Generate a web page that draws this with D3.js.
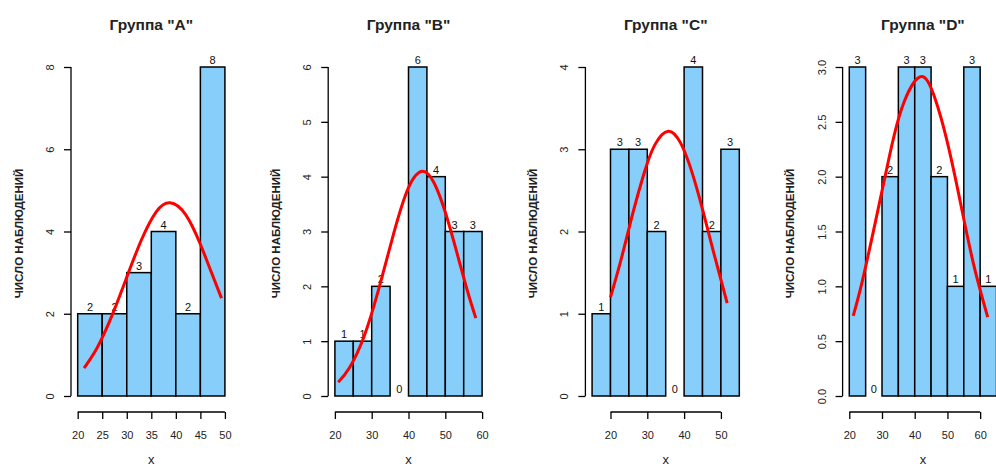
<!DOCTYPE html>
<html>
<head>
<meta charset="utf-8">
<script src="https://cdn.jsdelivr.net/npm/d3@7"></script>
<style>
  body { margin: 0; background: #fff; }
  svg { font-family: "Liberation Sans", Arial, sans-serif; }
  .bar { fill: #87cefa; stroke: #000; stroke-width: 1.5; }
  .curve { fill: none; stroke: #ff0000; stroke-width: 3; }
  .axis line, .axis path { stroke: #000; stroke-width: 1.3; }
  .tick-label { font-size: 11px; fill: #222; }
  .count { font-size: 11px; fill: #111; text-anchor: middle; }
  .title { font-size: 15.5px; font-weight: bold; text-anchor: middle; fill: #222; }
  .ylab { font-size: 11.5px; font-weight: bold; text-anchor: middle; fill: #222; }
  .xlab { font-size: 13px; text-anchor: middle; fill: #222; }
</style>
</head>
<body>
<script>
var width = 996, height = 466;

// data
var groups = ["A", "B", "C", "D"];

var breaksA = [20, 25, 30, 35, 40, 45, 50];
var countsA = [2, 2, 3, 4, 2, 8];
var breaksB = [20, 25, 30, 35, 40, 45, 50, 55, 60];
var countsB = [1, 1, 2, 0, 6, 4, 3, 3];
var breaksC = [15, 20, 25, 30, 35, 40, 45, 50, 55];
var countsC = [1, 3, 3, 2, 0, 4, 2, 3];
var breaksD = [20, 25, 30, 35, 40, 45, 50, 55, 60, 65];
var countsD = [3, 0, 2, 3, 3, 2, 1, 3, 1];

// fitted normal curves
var curveXA = [21.3, 24, 27, 30, 33, 36, 38.8, 42, 45, 47, 49.3];
var curveYA = [0.68, 1.18, 1.96, 2.89, 3.80, 4.48, 4.70, 4.41, 3.69, 3.08, 2.38];
var curveXB = [20.9, 24, 28, 32, 36, 40, 43.8, 47, 50, 53, 56, 58.3];
var curveYB = [0.25, 0.52, 1.10, 1.97, 2.97, 3.80, 4.10, 3.88, 3.35, 2.65, 1.92, 1.42];
var curveXC = [20, 23, 26, 29, 32, 35.7, 39, 42, 45, 48, 51.7];
var curveYC = [1.20, 1.68, 2.21, 2.69, 3.05, 3.22, 3.08, 2.74, 2.27, 1.75, 1.13];
var curveXD = [21.2, 24, 28, 32, 36, 41.6, 46, 50, 54, 58, 62.3];
var curveYD = [0.73, 1.05, 1.59, 2.15, 2.62, 2.91, 2.73, 2.31, 1.76, 1.20, 0.72];

var yTicksA = [0, 2, 4, 6, 8];
var yTicksB = [0, 1, 2, 3, 4, 5, 6];
var yTicksC = [0, 1, 2, 3, 4];
var yTicksD = [0, 0.5, 1, 1.5, 2, 2.5, 3];
var xTicksA = [20, 25, 30, 35, 40, 45, 50];
var xTicksB = [20, 30, 40, 50, 60];
var xTicksC = [20, 30, 40, 50];
var xTicksD = [20, 30, 40, 50, 60];

var panels = [
  {breaks: breaksA, counts: countsA, cx: curveXA, cy: curveYA, yt: yTicksA, xt: xTicksA, fmt: d3.format("d")},
  {breaks: breaksB, counts: countsB, cx: curveXB, cy: curveYB, yt: yTicksB, xt: xTicksB, fmt: d3.format("d")},
  {breaks: breaksC, counts: countsC, cx: curveXC, cy: curveYC, yt: yTicksC, xt: xTicksC, fmt: d3.format("d")},
  {breaks: breaksD, counts: countsD, cx: curveXD, cy: curveYD, yt: yTicksD, xt: xTicksD, fmt: d3.format(".1f")}
];

var svg = d3.select("body").append("svg").attr("width", width).attr("height", height);

var plotLeft0 = 71.8, panelStep = 257.2, plotW = 159;
var yBottom = 396, yTop = 67, xAxisY = 412;

panels.forEach(function(p, i){
  var left = plotLeft0 + i * panelStep;
  var lo = p.breaks[0], hi = p.breaks[p.breaks.length - 1];
  var pad = 0.04 * (hi - lo);
  var x = d3.scaleLinear().domain([lo - pad, hi + pad]).range([left, left + plotW]);
  var y = d3.scaleLinear().domain([0, d3.max(p.yt)]).range([yBottom, yTop]);
  var g = svg.append("g");

  var bins = p.counts.map(function(c, j){ return {x0: p.breaks[j], x1: p.breaks[j + 1], n: c}; });

  g.selectAll("rect.bar").data(bins.filter(function(d){ return d.n > 0; })).enter().append("rect")
    .attr("class", "bar")
    .attr("x", function(d){ return x(d.x0); })
    .attr("width", function(d){ return x(d.x1) - x(d.x0); })
    .attr("y", function(d){ return y(d.n); })
    .attr("height", function(d){ return y(0) - y(d.n); });

  g.selectAll("text.count").data(bins).enter().append("text")
    .attr("class", "count")
    .attr("x", function(d){ return (x(d.x0) + x(d.x1)) / 2; })
    .attr("y", function(d){ return y(d.n) - 3; })
    .text(function(d){ return d.n; });

  var line = d3.line()
    .x(function(d){ return x(d[0]); })
    .y(function(d){ return y(d[1]); })
    .curve(d3.curveNatural);
  g.append("path").attr("class", "curve").attr("d", line(d3.zip(p.cx, p.cy)));

  // y axis
  var yAx = g.append("g").attr("class", "axis").attr("transform", "translate(" + (left - 0.8) + ",0)")
    .call(d3.axisLeft(y).tickValues(p.yt).tickSize(7).tickSizeOuter(0).tickFormat(""));
  yAx.selectAll(".tick").append("text")
    .attr("class", "tick-label")
    .attr("transform", "translate(-21,0) rotate(-90)")
    .attr("text-anchor", "middle")
    .attr("dominant-baseline", "central")
    .text(function(d){ return p.fmt(d); });

  // x axis
  var xAx = g.append("g").attr("class", "axis").attr("transform", "translate(0," + xAxisY + ")")
    .call(d3.axisBottom(x).tickValues(p.xt).tickSize(7).tickSizeOuter(0).tickFormat(""));
  xAx.select(".domain").attr("d", "M" + x(p.xt[0]) + ",0H" + x(p.xt[p.xt.length - 1]));
  yAx.select(".domain").attr("d", "M0," + y(p.yt[0]) + "V" + y(p.yt[p.yt.length - 1]));
  xAx.selectAll(".tick").append("text")
    .attr("class", "tick-label")
    .attr("y", 27)
    .attr("text-anchor", "middle")
    .text(function(d){ return d; });

  var cxMid = left + plotW / 2;
  g.append("text").attr("class", "title").attr("x", cxMid).attr("y", 30)
    .text("Группа \"" + groups[i] + "\"");
  g.append("text").attr("class", "xlab").attr("x", cxMid).attr("y", 464).text("x");
  g.append("text").attr("class", "ylab")
    .attr("transform", "translate(" + (left - 53) + "," + ((yTop + yBottom) / 2 + 2) + ") rotate(-90)")
    .attr("dominant-baseline", "central")
    .text("ЧИСЛО НАБЛЮДЕНИЙ");
});
</script>
</body>
</html>
